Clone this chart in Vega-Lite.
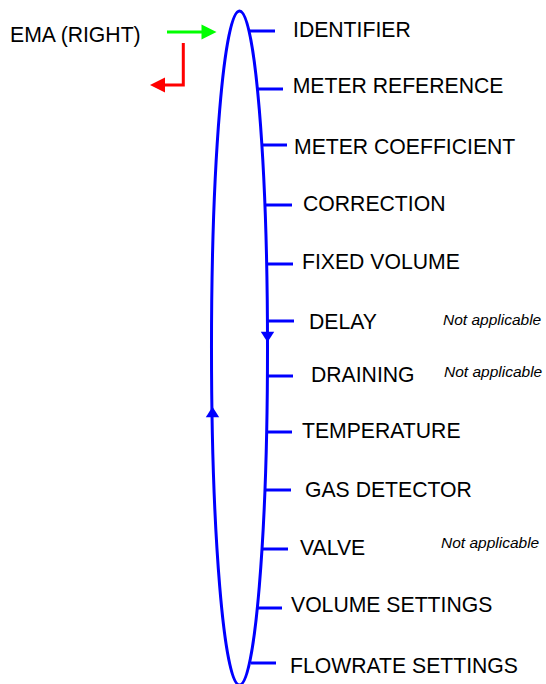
{
  "$schema": "https://vega.github.io/schema/vega-lite/v6.json",
  "width": 546,
  "height": 684,
  "padding": 0,
  "autosize": {"type": "none"},
  "config": {"view": {"stroke": null}},
  "datasets": {
    "ellipse": [{"x": 239.5, "y": 348}],
    "ticks": [
      {"y": 31, "x": 249, "x2": 275},
      {"y": 89, "x": 258, "x2": 283},
      {"y": 145, "x": 262, "x2": 287},
      {"y": 205, "x": 265, "x2": 292},
      {"y": 264, "x": 267, "x2": 293},
      {"y": 321, "x": 268, "x2": 294},
      {"y": 376, "x": 268, "x2": 293},
      {"y": 432, "x": 267, "x2": 292},
      {"y": 490, "x": 265, "x2": 291},
      {"y": 549, "x": 262, "x2": 288},
      {"y": 608, "x": 258, "x2": 282},
      {"y": 663, "x": 251, "x2": 276}
    ],
    "labels": [
      {"label": "IDENTIFIER", "x": 293, "y": 36.7},
      {"label": "METER REFERENCE", "x": 292.7, "y": 93.3},
      {"label": "METER COEFFICIENT", "x": 294, "y": 154},
      {"label": "CORRECTION", "x": 303, "y": 211},
      {"label": "FIXED VOLUME", "x": 302, "y": 269},
      {"label": "DELAY", "x": 309, "y": 329},
      {"label": "DRAINING", "x": 311, "y": 382},
      {"label": "TEMPERATURE", "x": 302, "y": 438},
      {"label": "GAS DETECTOR", "x": 305, "y": 497},
      {"label": "VALVE", "x": 300, "y": 555},
      {"label": "VOLUME SETTINGS", "x": 291, "y": 612},
      {"label": "FLOWRATE SETTINGS", "x": 290, "y": 673},
      {"label": "EMA (RIGHT)", "x": 10, "y": 41.5}
    ],
    "notes": [
      {"label": "Not applicable", "x": 443, "y": 325},
      {"label": "Not applicable", "x": 444, "y": 377},
      {"label": "Not applicable", "x": 441, "y": 548}
    ],
    "downArrow": [{"x": 267.5, "y": 337}],
    "upArrow": [{"x": 212.5, "y": 412}],
    "greenLine": [{"x": 167, "y": 32, "x2": 205}],
    "greenHead": [{"x": 209, "y": 32}],
    "redLine": [
      {"x": 183.3, "y": 43, "order": 1},
      {"x": 183.3, "y": 85, "order": 2},
      {"x": 162, "y": 85, "order": 3}
    ],
    "redHead": [{"x": 157.5, "y": 85}]
  },
  "encoding": {
    "x": {"field": "x", "type": "quantitative", "scale": {"domain": [0, 546], "nice": false, "zero": false}, "axis": null},
    "y": {"field": "y", "type": "quantitative", "scale": {"domain": [0, 684], "reverse": true, "nice": false, "zero": false}, "axis": null}
  },
  "layer": [
    {
      "data": {"name": "ellipse"},
      "mark": {"type": "point", "shape": "M 0 -1 A 0.0831 1 0 0 1 0 1 A 0.0831 1 0 0 1 0 -1 Z", "size": 454276, "filled": false, "stroke": "#0000ff", "strokeWidth": 3, "opacity": 1}
    },
    {
      "data": {"name": "ticks"},
      "mark": {"type": "rule", "stroke": "#0000ff", "strokeWidth": 3},
      "encoding": {"x2": {"field": "x2"}}
    },
    {
      "data": {"name": "downArrow"},
      "mark": {"type": "point", "shape": "M -1 -0.77 L 1 -0.77 L 0 0.77 Z", "size": 180, "filled": true, "fill": "#0000ff", "opacity": 1}
    },
    {
      "data": {"name": "upArrow"},
      "mark": {"type": "point", "shape": "M -1 0.77 L 1 0.77 L 0 -0.77 Z", "size": 180, "filled": true, "fill": "#0000ff", "opacity": 1}
    },
    {
      "data": {"name": "greenLine"},
      "mark": {"type": "rule", "stroke": "#00ff00", "strokeWidth": 3},
      "encoding": {"x2": {"field": "x2"}}
    },
    {
      "data": {"name": "greenHead"},
      "mark": {"type": "point", "shape": "M -1 -1 L 1 0 L -1 1 Z", "size": 225, "filled": true, "fill": "#00ff00", "opacity": 1}
    },
    {
      "data": {"name": "redLine"},
      "mark": {"type": "line", "stroke": "#ff0000", "strokeWidth": 3},
      "encoding": {"order": {"field": "order", "type": "quantitative"}}
    },
    {
      "data": {"name": "redHead"},
      "mark": {"type": "point", "shape": "M 1 -1 L -1 0 L 1 1 Z", "size": 225, "filled": true, "fill": "#ff0000", "opacity": 1}
    },
    {
      "data": {"name": "labels"},
      "mark": {"type": "text", "align": "left", "baseline": "alphabetic", "font": "Liberation Sans", "fontSize": 21.2, "fill": "#000000"},
      "encoding": {"text": {"field": "label"}}
    },
    {
      "data": {"name": "notes"},
      "mark": {"type": "text", "align": "left", "baseline": "alphabetic", "font": "Liberation Sans", "fontStyle": "italic", "fontSize": 15.5, "fill": "#000000"},
      "encoding": {"text": {"field": "label"}}
    }
  ]
}
